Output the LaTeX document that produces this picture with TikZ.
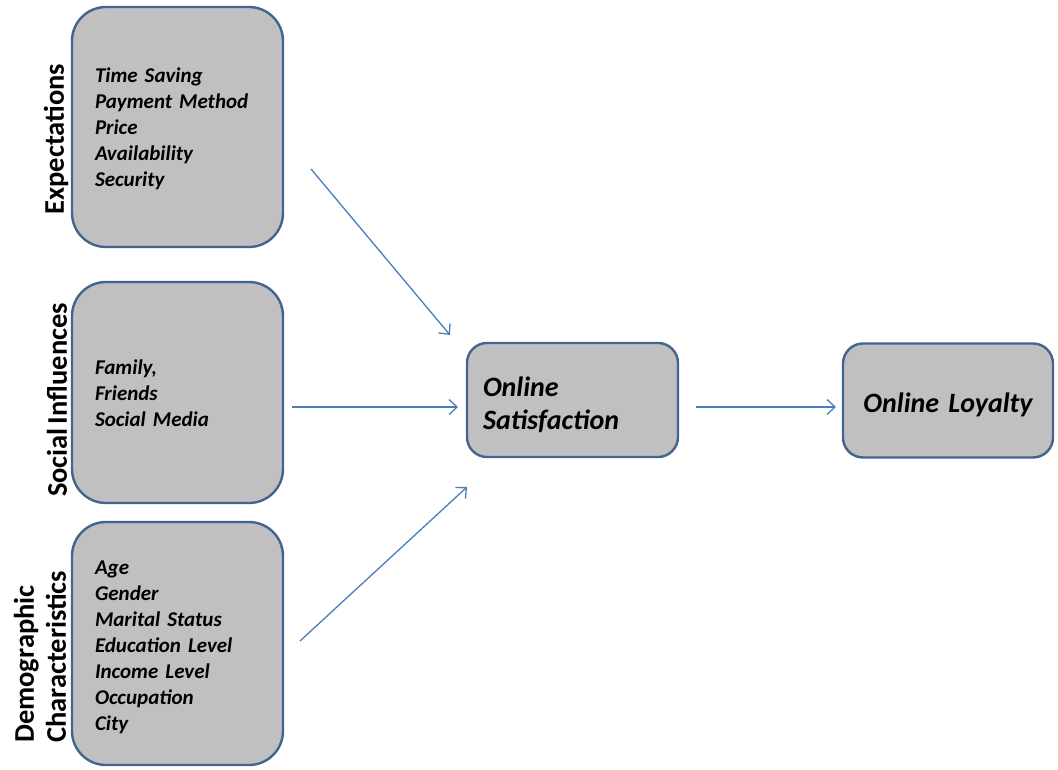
\documentclass[tikz,border=0pt]{standalone}
\usepackage{fontspec}
\setmainfont{Carlito}[WordSpace=0.6,
  BoldItalicFeatures={WordSpace=0.6}, BoldFeatures={WordSpace=0.6}]
\usetikzlibrary{arrows.meta}
\definecolor{boxfill}{HTML}{C0C0C0}
\definecolor{boxline}{HTML}{41658F}
\definecolor{linkblue}{HTML}{4A7EBB}
% invisible strut that makes the first line taller by #1
\newcommand{\toplift}[1]{\rule{0pt}{\dimexpr 0.7em+#1\relax}}
\begin{document}
\begin{tikzpicture}[x=1pt,y=-1pt,
  panel/.style={draw=boxline, line width=2.4pt, fill=boxfill,
    rounded corners=34pt, inner xsep=23pt, inner ysep=0pt,
    text width=165pt, minimum width=211pt, align=left,
    font=\fontsize{21}{26}\selectfont\bfseries\itshape},
  outcome/.style={draw=boxline, line width=2.4pt, fill=boxfill,
    rounded corners=20pt, inner xsep=16pt, inner ysep=0pt,
    minimum height=114pt,
    font=\fontsize{28}{33}\selectfont\bfseries\itshape},
  sidelabel/.style={rotate=90, inner sep=0pt, align=left,
    font=\fontsize{28.5}{32}\selectfont\bfseries},
  link/.style={draw=linkblue, line width=1.3pt,
    -{Straight Barb[length=8pt,width=15pt,line width=1.3pt]}}]

\useasboundingbox (0,0) rectangle (1058,770);

% factor panels
\node[panel, minimum height=240pt] (exp) at (177.5,127)
  {\toplift{4pt}Time Saving\\Payment Method\\Price\\Availability\\Security};
\node[panel, minimum height=221pt] (soc) at (177.5,392.5)
  {\toplift{2pt}Family,\\Friends\\Social Media};
\node[panel, minimum height=243pt] (dem) at (177.5,643.5)
  {\toplift{6pt}Age\\Gender\\Marital Status\\Education Level\\Income Level\\Occupation\\City};

% panel captions
\node[sidelabel] (expl) at (56,139) {Expectations};
\node[sidelabel] (socl) at (57,400) {Social Influences};
\node[sidelabel, anchor=west] (deml) at (40,743) {Demographic\\Characteristics};

% outcomes
\node[outcome, text width=179pt, align=left] (sat) at (572.5,400)
  {\toplift{10pt}Online\\Satisfaction};
\node[outcome, text width=178pt, align=center] (loy) at (948,400.5)
  {\toplift{8pt}Online Loyalty};

% arrow end points
\coordinate (e1) at (311,169);
\coordinate (e2) at (450,335);
\coordinate (s1) at (292,407);
\coordinate (s2) at (458,407);
\coordinate (d1) at (300,641);
\coordinate (d2) at (467,487);
\coordinate (o1) at (696,407);
\coordinate (o2) at (836,407);

\draw[link] (e1) -- (e2);
\draw[link] (s1) -- (s2);
\draw[link] (d1) -- (d2);
\draw[link] (o1) -- (o2);
\end{tikzpicture}
\end{document}
